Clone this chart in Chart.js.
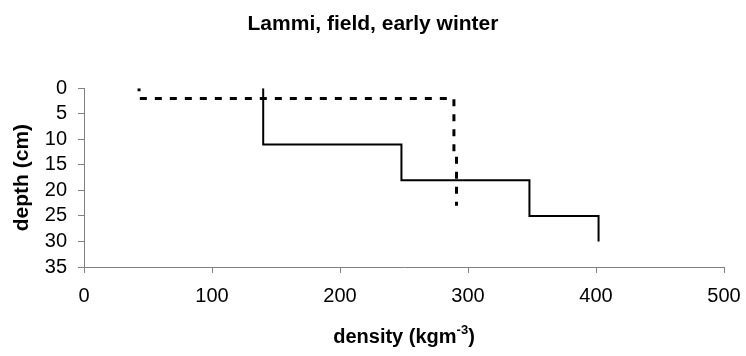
<!DOCTYPE html>
<html>
<head>
<meta charset="utf-8">
<script src="https://cdn.jsdelivr.net/npm/chart.js@4/dist/chart.umd.min.js"></script>
<style>
  html, body { margin: 0; padding: 0; background: #fff; }
  #wrap { width: 746px; height: 356px; position: relative; }
</style>
</head>
<body>
<div id="wrap"><canvas id="c" width="746" height="356"></canvas></div>
<script>
// ---- Data ----
const chartTitle = 'Lammi, field, early winter';
const yAxisTitle = 'depth (cm)';
const xAxisTitleMain = 'density (kgm';
const xAxisTitleSup = '-3';
const xAxisTitleEnd = ')';

const xTicks = [0, 100, 200, 300, 400, 500];
const yTicks = [0, 5, 10, 15, 20, 25, 30, 35];

// solid profile: layers (density, top depth, bottom depth)
const solidDensity = [140, 248, 348, 402];
const solidTop     = [0, 11, 18, 25];
const solidBottom  = [11, 18, 25, 30];

// dashed profile
const dashDensity = [43, 289, 291];
const dashTop     = [0, 2, 13];
const dashBottom  = [2, 13, 23];

function profilePoints(dens, tops, bottoms) {
  const pts = [];
  for (let i = 0; i < dens.length; i++) {
    pts.push({ x: dens[i], y: tops[i] });
    pts.push({ x: dens[i], y: bottoms[i] });
  }
  return pts;
}

const axisColor = '#808080';
const FONT = "'Liberation Sans', Arial, sans-serif";

const xTitlePlugin = {
  id: 'xTitle',
  afterDraw(chart) {
    const ctx = chart.ctx;
    const area = chart.chartArea;
    const cx = (area.left + area.right) / 2;
    ctx.save();
    ctx.fillStyle = '#000';
    ctx.textBaseline = 'alphabetic';
    const mainFont = 'bold 20px ' + FONT;
    const supFont = 'bold 13px ' + FONT;
    ctx.font = mainFont;
    const w1 = ctx.measureText(xAxisTitleMain).width;
    const w3 = ctx.measureText(xAxisTitleEnd).width;
    ctx.font = supFont;
    const w2 = ctx.measureText(xAxisTitleSup).width;
    let x = cx - (w1 + w2 + w3) / 2;
    const base = 343;
    ctx.textAlign = 'left';
    ctx.font = mainFont;
    ctx.fillText(xAxisTitleMain, x, base);
    x += w1;
    ctx.font = supFont;
    ctx.fillText(xAxisTitleSup, x, base - 9);
    x += w2;
    ctx.font = mainFont;
    ctx.fillText(xAxisTitleEnd, x, base);
    ctx.restore();
  }
};

new Chart(document.getElementById('c'), {
  type: 'scatter',
  data: {
    datasets: [
      {
        label: 'solid',
        data: profilePoints(solidDensity, solidTop, solidBottom),
        showLine: true,
        borderColor: '#000',
        borderWidth: 2,
        pointRadius: 0,
        tension: 0,
        fill: false
      },
      {
        label: 'dashed',
        data: profilePoints(dashDensity, dashTop, dashBottom),
        showLine: true,
        borderColor: '#000',
        borderWidth: 3,
        borderDash: [7, 8],
        borderDashOffset: 4,
        borderCapStyle: 'butt',
        pointRadius: 0,
        tension: 0,
        fill: false
      }
    ]
  },
  options: {
    responsive: false,
    animation: false,
    devicePixelRatio: 1,
    layout: { padding: { left: 0, right: 0, top: 0, bottom: 0 } },
    plugins: {
      legend: { display: false },
      tooltip: { enabled: false },
      title: {
        display: true,
        text: chartTitle,
        color: '#000',
        font: { family: FONT, size: 21, weight: 'bold', lineHeight: 1.2 },
        padding: { top: 12, bottom: 51 }
      }
    },
    scales: {
      x: {
        type: 'linear',
        min: 0, max: 500,
        afterBuildTicks: (s) => { s.ticks = xTicks.map(v => ({ value: v })); },
        afterFit: (s) => { s.height = 89; s.paddingLeft = 0; s.paddingRight = 22; },
        ticks: { color: '#000', font: { family: FONT, size: 20 }, padding: 11, maxRotation: 0, autoSkip: false },
        grid: { display: true, drawOnChartArea: false, drawTicks: true, tickLength: 6, color: axisColor, lineWidth: 1 },
        border: { display: true, color: axisColor, width: 1 },
        title: { display: false }
      },
      y: {
        type: 'linear',
        reverse: true,
        min: 0, max: 35,
        afterBuildTicks: (s) => { s.ticks = yTicks.map(v => ({ value: v })); },
        afterFit: (s) => { s.width = 84; s.paddingTop = 0; s.paddingBottom = 0; },
        ticks: { color: '#000', font: { family: FONT, size: 20 }, padding: 11, autoSkip: false },
        grid: { display: true, drawOnChartArea: false, drawTicks: true, tickLength: 6, color: axisColor, lineWidth: 1 },
        border: { display: true, color: axisColor, width: 1 },
        title: {
          display: true,
          text: yAxisTitle,
          color: '#000',
          font: { family: FONT, size: 21, weight: 'bold', lineHeight: 1.2 },
          padding: { top: 10, bottom: 0 }
        }
      }
    }
  },
  plugins: [xTitlePlugin]
});
</script>
</body>
</html>
